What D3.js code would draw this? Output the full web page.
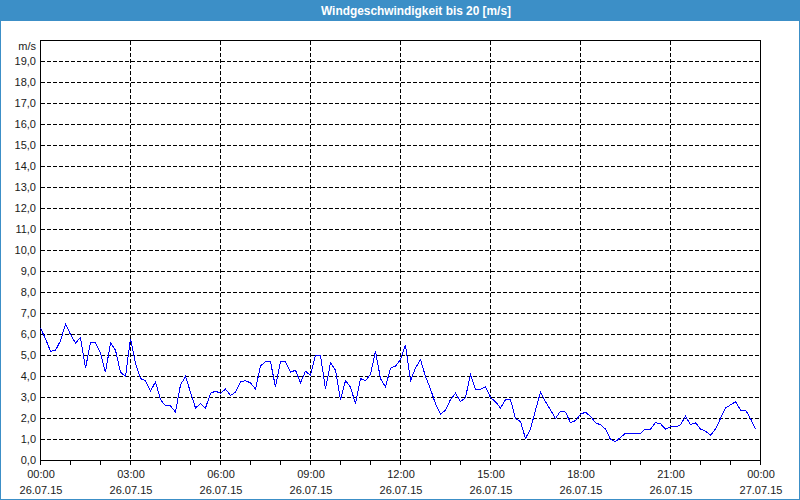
<!DOCTYPE html>
<html>
<head>
<meta charset="utf-8">
<script src="https://cdn.jsdelivr.net/npm/d3@7"></script>
<style>
  html, body { margin: 0; padding: 0; background: #ffffff; }
  svg { display: block; }
</style>
</head>
<body>
<script>
// ---- data ----
const chartTitle = "Windgeschwindigkeit bis 20 [m/s]";
const unitLabel = "m/s";
const startTime = "2015-07-26T00:00:00";
const endTime = "2015-07-27T00:00:00";
const stepMinutes = 10;
const windSpeed = [
  6.3, 5.8, 5.2, 5.25, 5.7, 6.5, 6.0, 5.6, 5.85, 4.4,
  5.6, 5.6, 5.1, 4.2, 5.6, 5.25, 4.2, 4.0, 5.8, 4.6,
  3.9, 3.8, 3.3, 3.75, 2.9, 2.6, 2.6, 2.3, 3.6, 4.0,
  3.25, 2.5, 2.7, 2.5, 3.2, 3.3, 3.2, 3.4, 3.1, 3.25,
  3.75, 3.8, 3.7, 3.4, 4.5, 4.7, 4.7, 3.5, 4.7, 4.7,
  4.2, 4.3, 3.7, 4.25, 4.05, 5.0, 5.0, 3.4, 4.65, 4.3,
  2.9, 3.8, 3.5, 2.7, 3.9, 3.8, 4.1, 5.2, 3.9, 3.5,
  4.4, 4.5, 4.8, 5.5, 3.8, 4.4, 4.8, 4.0, 3.4, 2.7,
  2.2, 2.4, 2.9, 3.2, 2.8, 3.0, 4.1, 3.4, 3.4, 3.5,
  3.0, 2.8, 2.5, 2.9, 2.9, 2.0, 1.85, 1.05, 1.5, 2.4,
  3.25, 2.8, 2.4, 2.0, 2.35, 2.3, 1.8, 1.9, 2.2, 2.3,
  2.1, 1.8, 1.7, 1.5, 1.0, 0.9, 1.1, 1.3, 1.3, 1.3,
  1.3, 1.5, 1.5, 1.8, 1.75, 1.5, 1.6, 1.6, 1.7, 2.1,
  1.7, 1.8, 1.5, 1.4, 1.2, 1.5, 2.0, 2.5, 2.65, 2.8,
  2.4, 2.4, 2.0, 1.5
];
const xTickTimes = ["00:00","03:00","06:00","09:00","12:00","15:00","18:00","21:00","00:00"];
const xTickDates = ["26.07.15","26.07.15","26.07.15","26.07.15","26.07.15","26.07.15","26.07.15","26.07.15","27.07.15"];
const yTicks = [0,1,2,3,4,5,6,7,8,9,10,11,12,13,14,15,16,17,18,19];
const yMax = 20;

// ---- chart ----
const W = 800, H = 500;
const blue = "#3c8fc7";
const svg = d3.select("body").append("svg").attr("width", W).attr("height", H);

svg.append("rect").attr("x",0).attr("y",0).attr("width",W).attr("height",H).attr("fill","#ffffff");

// title bar
svg.append("rect").attr("x",0).attr("y",0).attr("width",W).attr("height",21).attr("fill",blue);
svg.append("text").attr("x",321).attr("y",15)
  .attr("font-family","Liberation Sans, Arial, sans-serif").attr("font-size",12).attr("font-weight","bold")
  .attr("fill","#ffffff").attr("textLength",190).attr("lengthAdjust","spacingAndGlyphs")
  .text(chartTitle);

// outer frame
svg.append("rect").attr("x",0.5).attr("y",0.5).attr("width",W-1).attr("height",H-1)
  .attr("fill","none").attr("stroke",blue).attr("stroke-width",1);

const t0 = new Date(startTime), t1 = new Date(endTime);
const x = d3.scaleTime().domain([t0, t1]).range([40, 760]);
const y = d3.scaleLinear().domain([0, yMax]).range([460, 40]);
const px = v => Math.round(x(v)) + 0.5;
const py = v => Math.round(y(v)) + 0.5;

const g = svg.append("g").attr("shape-rendering","crispEdges");

// horizontal grid
g.selectAll("line.hg").data(yTicks.filter(d => d > 0)).enter().append("line")
  .attr("x1", 40.5).attr("x2", 760.5)
  .attr("y1", d => py(d)).attr("y2", d => py(d))
  .attr("stroke","#000").attr("stroke-dasharray","4,2");

// vertical grid at major ticks
const majorTicks = x.ticks(d3.timeHour.every(3));
g.selectAll("line.vg").data(majorTicks.slice(1, -1)).enter().append("line")
  .attr("x1", d => px(d)).attr("x2", d => px(d))
  .attr("y1", 40.5).attr("y2", 460.5)
  .attr("stroke","#000").attr("stroke-dasharray","4,2");

// hourly ticks below x axis
g.selectAll("line.tk").data(x.ticks(d3.timeHour.every(1))).enter().append("line")
  .attr("x1", d => px(d)).attr("x2", d => px(d))
  .attr("y1", 460.5).attr("y2", 465)
  .attr("stroke","#000");

// data line
const data = windSpeed.map((v, i) => ({ t: d3.timeMinute.offset(t0, i * stepMinutes), v }));
const line = d3.line().x(d => x(d.t) + 0.5).y(d => y(d.v) + 0.5);
svg.append("path").datum(data).attr("d", line)
  .attr("fill","none").attr("stroke","#0000ff").attr("stroke-width",1)
  .attr("shape-rendering","optimizeSpeed");

// plot border
g.append("rect").attr("x",40.5).attr("y",40.5).attr("width",720).attr("height",420)
  .attr("fill","none").attr("stroke","#000");

// y labels
const locale = d3.formatLocale({decimal: ",", thousands: ".", grouping: [3], currency: ["", "€"]});
const f1 = locale.format(".1f");
const font = "Liberation Sans, Arial, sans-serif";
svg.selectAll("text.yl").data(yTicks).enter().append("text")
  .attr("x", 36).attr("y", d => y(d) + 4)
  .attr("text-anchor","end").attr("font-family",font).attr("font-size",11).attr("fill","#1a1a1a")
  .text(d => f1(d));
svg.append("text").attr("x",36).attr("y",50).attr("text-anchor","end")
  .attr("font-family",font).attr("font-size",11).attr("fill","#1a1a1a").text(unitLabel);

// x labels
svg.selectAll("text.xt").data(majorTicks).enter().append("text")
  .attr("x", d => x(d) + 1).attr("y", 478)
  .attr("text-anchor","middle").attr("font-family",font).attr("font-size",11).attr("fill","#1a1a1a")
  .text((d,i) => xTickTimes[i]);
svg.selectAll("text.xd").data(majorTicks).enter().append("text")
  .attr("x", d => x(d) + 1).attr("y", 494)
  .attr("text-anchor","middle").attr("font-family",font).attr("font-size",11).attr("fill","#1a1a1a")
  .text((d,i) => xTickDates[i]);
</script>
</body>
</html>
